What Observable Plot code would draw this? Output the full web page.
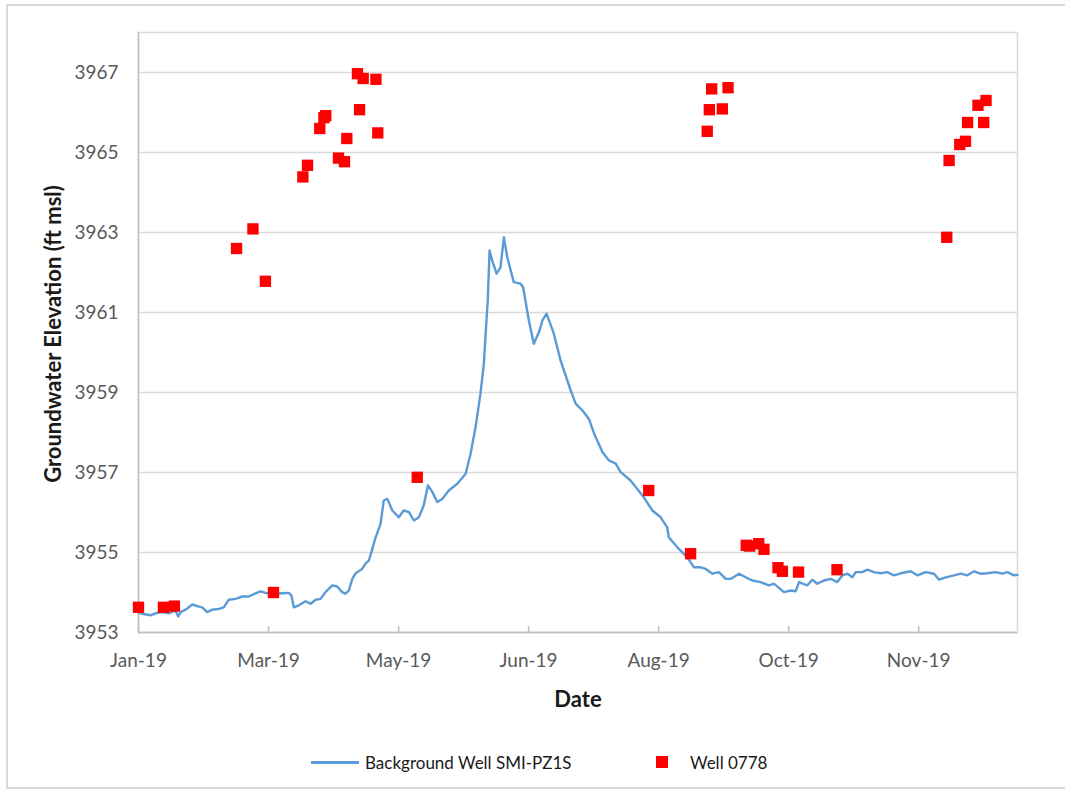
<!DOCTYPE html>
<html>
<head>
<meta charset="utf-8">
<script src="https://cdn.jsdelivr.net/npm/d3@7"></script>
<script src="https://cdn.jsdelivr.net/npm/@observablehq/plot@0.6"></script>
<style>
  html, body { margin: 0; padding: 0; background: #fff; }
  body { width: 1065px; height: 795px; position: relative; overflow: hidden; font-family: Lato, "Open Sans", sans-serif; }
  #frame { position: absolute; left: 6px; top: 4px; width: 1070px; height: 785px; border: 2px solid #d9d9d9; box-sizing: border-box; }
  #chart { position: absolute; left: 0; top: 0; }
  .ytitle { position: absolute; left: 52px; top: 334px; transform: translate(-50%, -50%) rotate(-90deg); font-weight: bold; font-size: 22px; color: #1a1a1a; white-space: nowrap; }
  .xtitle { position: absolute; left: 578px; top: 698px; transform: translate(-50%, -50%); font-weight: bold; font-size: 22px; color: #1a1a1a; white-space: nowrap; }
  .leg { position: absolute; top: 762px; transform: translateY(-50%); font-size: 17px; color: #1a1a1a; white-space: nowrap; }
  .legline { position: absolute; top: 761px; left: 311px; width: 48px; height: 2.5px; background: #5B9BD5; }
  .legsq { position: absolute; top: 756px; left: 656px; width: 12px; height: 12px; background: #ff0000; }
</style>
</head>
<body>
<div id="frame"></div>
<div id="chart"></div>
<div class="ytitle">Groundwater Elevation (ft msl)</div>
<div class="xtitle">Date</div>
<div class="legline"></div>
<div class="leg" style="left:365px">Background Well SMI-PZ1S</div>
<div class="legsq"></div>
<div class="leg" style="left:690px">Well 0778</div>
<script>
// Background Well SMI-PZ1S: day of year 2019 (0 = Jan 1) and elevation (ft msl)
const bgDay = [24.0,25.4,28.6,30.5,33.1,35.7,38.2,39.3,40.2,42.1,44.7,46.6,48.5,50.4,52.3,54.9,56.8,58.7,61.3,63.9,66.4,69.0,70.9,73.5,76.0,79.3,81.8,82.8,83.7,85.7,88.2,90.2,92.1,94.0,95.9,98.5,100.4,102.3,103.6,104.9,106.2,107.5,110.0,111.3,112.6,115.2,117.1,118.3,119.7,121.6,124.1,126.0,128.0,129.9,131.8,133.7,135.3,137.0,138.9,140.8,143.3,146.6,149.8,151.7,153.6,155.5,156.8,157.8,158.3,159.0,160.0,161.7,163.2,164.5,165.8,168.3,170.9,171.9,174.1,176.0,178.0,179.3,180.9,183.7,186.3,187.6,190.2,192.1,194.7,197.2,199.2,202.4,204.9,207.5,209.4,213.2,215.8,218.3,221.6,224.8,227.3,227.9,231.2,235.0,237.6,240.2,242.1,244.7,247.2,249.8,251.7,254.9,257.5,260.0,263.2,266.4,268.3,272.2,274.8,276.7,278.0,279.3,281.2,283.1,285.0,287.6,290.2,292.7,294.7,296.6,298.5,299.8,302.3,304.3,306.8,309.4,311.9,314.5,317.1,320.9,323.5,326.7,329.9,331.8,334.4,337.6,340.2,342.7,345.3,347.8,350.4,353.6,356.2,358.1,360.7,362.0];
const bgElev = [3953.50,3953.47,3953.43,3953.48,3953.51,3953.48,3953.55,3953.40,3953.51,3953.57,3953.70,3953.66,3953.63,3953.51,3953.57,3953.59,3953.63,3953.82,3953.84,3953.90,3953.90,3953.98,3954.03,3953.98,3953.97,3953.98,3953.99,3953.93,3953.63,3953.68,3953.78,3953.72,3953.82,3953.84,3954.01,3954.18,3954.15,3954.01,3953.97,3954.05,3954.34,3954.48,3954.59,3954.72,3954.80,3955.38,3955.72,3956.30,3956.34,3956.05,3955.88,3956.05,3956.01,3955.80,3955.88,3956.18,3956.68,3956.51,3956.26,3956.34,3956.55,3956.72,3956.97,3957.47,3958.13,3958.97,3959.72,3960.80,3961.30,3962.55,3962.30,3961.97,3962.13,3962.88,3962.38,3961.76,3961.72,3961.63,3960.80,3960.22,3960.51,3960.80,3960.97,3960.47,3959.80,3959.55,3959.05,3958.72,3958.55,3958.34,3957.97,3957.51,3957.30,3957.22,3957.01,3956.80,3956.59,3956.38,3956.05,3955.88,3955.63,3955.38,3955.13,3954.88,3954.63,3954.63,3954.59,3954.47,3954.51,3954.34,3954.34,3954.47,3954.38,3954.30,3954.26,3954.18,3954.22,3954.01,3954.05,3954.03,3954.26,3954.22,3954.18,3954.32,3954.22,3954.30,3954.34,3954.26,3954.43,3954.47,3954.38,3954.51,3954.51,3954.57,3954.51,3954.48,3954.51,3954.43,3954.48,3954.53,3954.43,3954.51,3954.47,3954.32,3954.38,3954.43,3954.47,3954.43,3954.53,3954.47,3954.48,3954.51,3954.47,3954.51,3954.43,3954.44];

// Well 0778: day of year 2019 and elevation (ft msl)
const wellDay = [24.0,33.6,37.8,75.9,61.7,68.0,72.8,87.2,89.0,93.7,95.3,96.0,100.9,103.2,104.1,108.2,110.4,109.0,115.3,116.0,131.2,220.2,236.3,242.7,243.5,244.4,248.5,250.7,257.7,259.0,262.5,264.5,269.9,271.6,277.8,292.6,334.8,335.7,339.8,342.0,342.8,346.8,349.9,349.0];
const wellElev = [3953.63,3953.63,3953.66,3954.00,3962.60,3963.09,3961.78,3964.39,3964.68,3965.60,3965.87,3965.92,3964.86,3964.77,3965.35,3966.97,3966.85,3966.07,3966.83,3965.49,3956.88,3956.55,3954.97,3965.53,3966.07,3966.59,3966.09,3966.62,3955.18,3955.16,3955.22,3955.08,3954.62,3954.53,3954.51,3954.57,3962.88,3964.80,3965.20,3965.28,3965.75,3966.18,3966.30,3965.75];

// Axis ticks and domains
const xTickDates = ["2019-01-25","2019-03-16","2019-05-05","2019-06-24","2019-08-13","2019-10-02","2019-11-21"];
const xDomainDates = ["2019-01-25","2019-12-29"];
const yTicks = [3953,3955,3957,3959,3961,3963,3965,3967];
const yDomain = [3953,3968];

const toDate = d => new Date(Date.UTC(2019, 0, 1) + d * 864e5);
const bg = bgDay.map((d, i) => ({date: toDate(d), elev: bgElev[i]}));
const well = wellDay.map((d, i) => ({date: toDate(d), elev: wellElev[i]}));
const xTicks = xTickDates.map(s => new Date(s));
const xDomain = xDomainDates.map(s => new Date(s));
const fmt = d3.utcFormat("%b-%y");

const plot = Plot.plot({
  width: 1065,
  height: 725,
  marginLeft: 138,
  marginRight: 48,
  marginTop: 32,
  marginBottom: 93,
  style: {fontFamily: "Lato, 'Open Sans', sans-serif", background: "transparent", overflow: "visible"},
  x: {type: "utc", domain: xDomain},
  y: {domain: yDomain},
  marks: [
    Plot.gridY(yTicks, {stroke: "#d9d9d9", strokeOpacity: 1, strokeWidth: 1.5}),
    Plot.frame({stroke: "#d9d9d9", strokeWidth: 1.5}),
    Plot.ruleY([yDomain[0]], {stroke: "#bfbfbf", strokeWidth: 1.5}),
    Plot.ruleX([xDomain[0]], {stroke: "#bfbfbf", strokeWidth: 1.5}),
    Plot.axisY(yTicks, {tickSize: 0, tickPadding: 20, fontSize: 19, fill: "#595959", tickFormat: d3.format("d"), label: null}),
    Plot.axisX(xTicks, {tickSize: -6, tickPadding: 27, fontSize: 19, fill: "#595959", stroke: "#bfbfbf", strokeWidth: 1.5, tickFormat: fmt, label: null}),
    Plot.line(bg, {x: "date", y: "elev", stroke: "#5B9BD5", strokeWidth: 2.4}),
    Plot.dot(well, {x: "date", y: "elev", symbol: "square", r: 6.4, fill: "#ff0000", stroke: "none"})
  ]
});
document.getElementById("chart").appendChild(plot);
</script>
</body>
</html>
